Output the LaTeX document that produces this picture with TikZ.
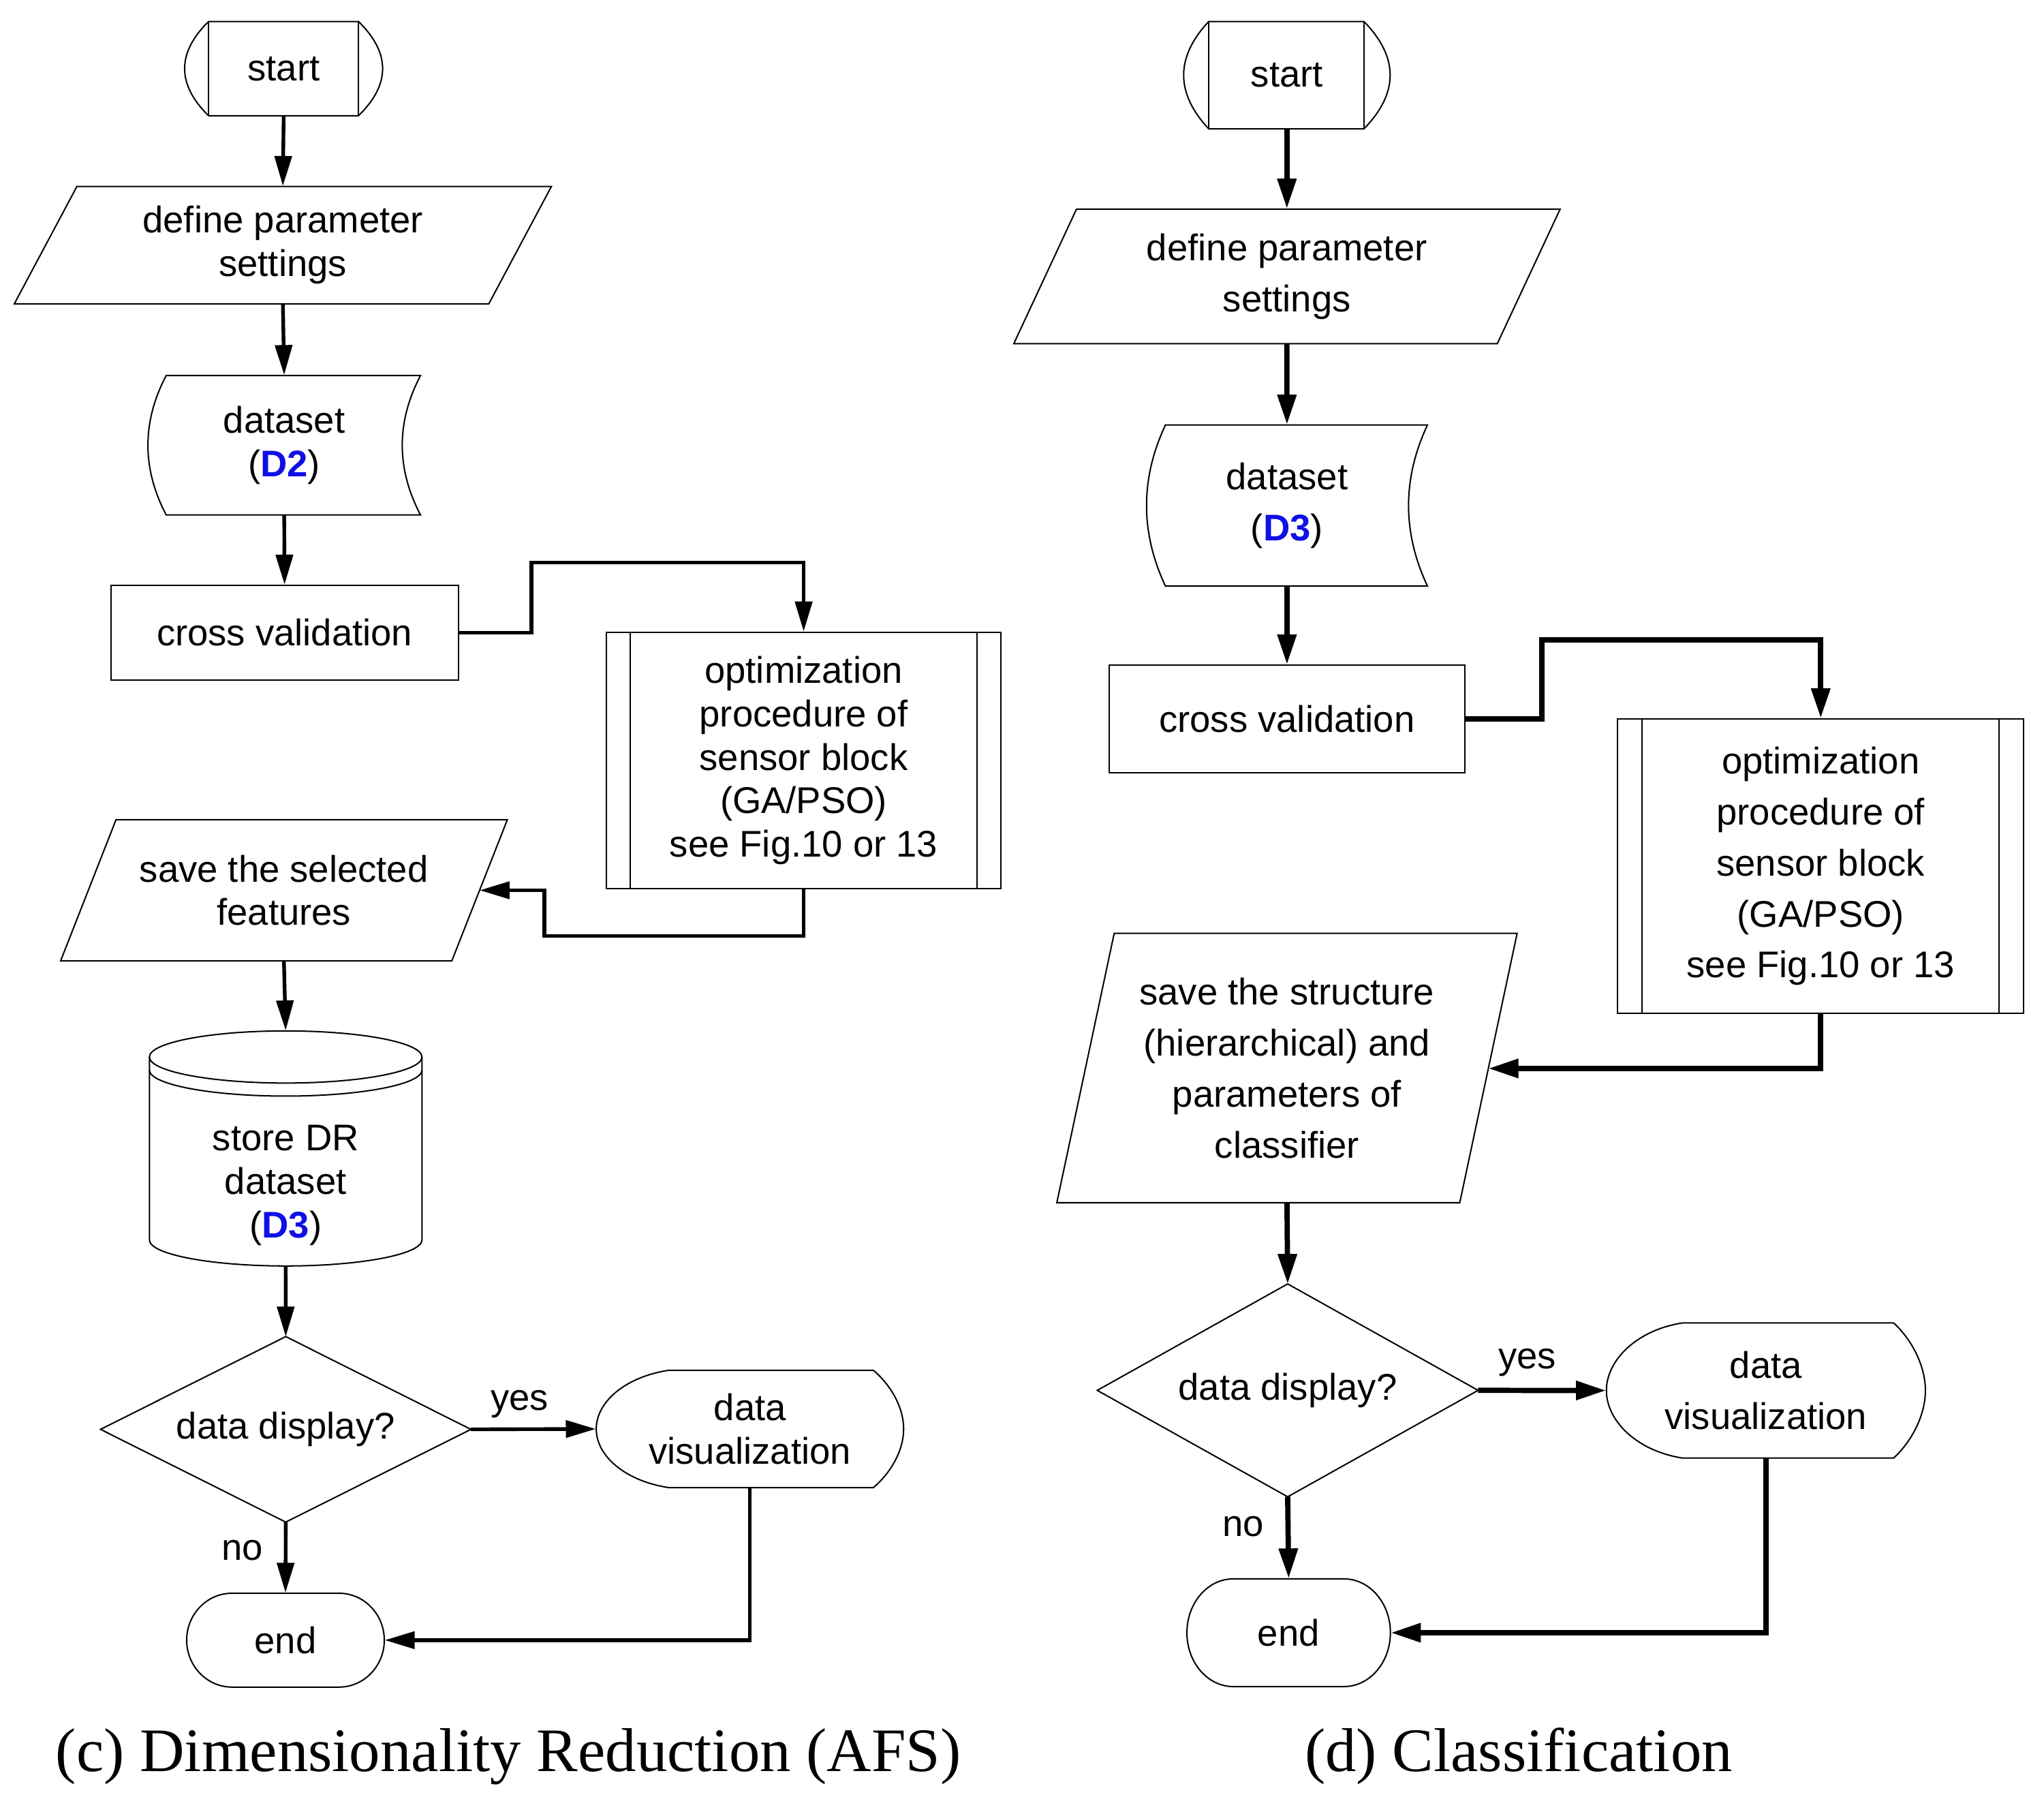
\documentclass[tikz,border=0pt]{standalone}
\usepackage{fontspec}
\setmainfont{Liberation Serif}
\newfontfamily\flowfont{Liberation Sans}
\usetikzlibrary{arrows.meta}
\definecolor{dsblue}{RGB}{15,15,230}
\newcommand{\dsname}[1]{(\textcolor{dsblue}{\textbf{#1}})}
\tikzset{
  outline/.style={line width=0.6pt},
  box/.style={draw, outline, inner sep=0pt, align=center},
  txt/.style={inner sep=0pt, align=center},
  ltext/.style={font={\flowfont\fontsize{16.2}{19}\selectfont}},
  rtext/.style={font={\flowfont\fontsize{16.2}{22.3}\selectfont}},
  flowl/.style={-{Triangle[length=4.6mm,width=2.6mm]}, line width=1.6pt},
  flowr/.style={-{Triangle[length=4.6mm,width=2.8mm]}, line width=2.3pt},
  caption/.style={font={\fontsize{27}{30}\selectfont}, anchor=base}
}
\begin{document}
\begin{tikzpicture}[x=0.02cm, y=-0.02cm]
\useasboundingbox (0,0) rectangle (1568,1391);
% (c) dimensionality reduction
\node[txt, ltext, minimum width=3.04cm, minimum height=1.446cm] (start1) at (217.6,52.65) {start};
\draw[outline] (160,16.5) -- (275,16.5) .. controls (299.7,40.6) and (299.7,64.7) .. (275,88.8) -- (160,88.8) .. controls (135.5,64.7) and (135.5,40.6) .. (160,16.5) -- cycle;
\draw[outline] (160,16.5) -- (160,88.8) (275,16.5) -- (275,88.8);
\node[txt, ltext, minimum height=1.8cm] (par1) at (217,188) {define parameter\\settings};
\draw[outline] (59,143) -- (423,143) -- (375,233) -- (11,233) -- cycle;
\node[txt, ltext, minimum height=2.14cm] (data1) at (218,341.5) {dataset\\\dsname{D2}};
\draw[outline] (127.5,288) -- (322.6,288) .. controls (303.9,323.7) and (303.9,359.3) .. (322.6,395) -- (127.5,395) .. controls (108.8,359.3) and (108.8,323.7) .. (127.5,288) -- cycle;
\node[box, ltext, minimum width=5.332cm, minimum height=1.45cm] (cv1) at (218.3,485.2) {cross validation};
\node[box, ltext, minimum width=6.052cm, minimum height=3.938cm] (opt1) at (616.5,583.3) {optimization\\procedure of\\sensor block\\(GA/PSO)\\see Fig.10 or 13};
\draw[outline] ([xshift=0.376cm]opt1.north west) -- ([xshift=0.376cm]opt1.south west);
\draw[outline] ([xshift=-0.376cm]opt1.north east) -- ([xshift=-0.376cm]opt1.south east);
\node[txt, ltext, minimum height=2.166cm] (save1) at (217.8,682.85) {save the selected\\features};
\draw[outline] (89,628.7) -- (389.2,628.7) -- (346.6,737) -- (46.5,737) -- cycle;
\coordinate (save1e) at (367.9,682.85);
\node[txt, minimum width=4.18cm, minimum height=3.606cm] (cyl1) at (219.15,880.85) {};
\node[txt, ltext] (cyl1t) at (219.15,909) {store DR\\dataset\\\dsname{D3}};
\draw[outline] (219.15,810.7) ellipse [x radius=2.091cm, y radius=0.4cm];
\draw[outline] (114.6,820.7) .. controls (114.6,831.7) and (161.4,840.7) .. (219.15,840.7) .. controls (276.9,840.7) and (323.7,831.7) .. (323.7,820.7);
\draw[outline] (114.6,810.7) -- (114.6,951) .. controls (114.6,962) and (161.4,971) .. (219.15,971) .. controls (276.9,971) and (323.7,962) .. (323.7,951) -- (323.7,810.7);
\node[txt, ltext, minimum width=5.67cm, minimum height=2.832cm] (dec1) at (219.2,1096.3) {data display?};
\draw[outline] (dec1.north) -- (dec1.east) -- (dec1.south) -- (dec1.west) -- cycle;
\node[txt, ltext, minimum width=4.716cm, minimum height=1.8cm] (viz1) at (575.3,1096) {data\\visualization};
\draw[outline] (513,1051) -- (670,1051) .. controls (684,1063) and (693.2,1080) .. (693.2,1096) .. controls (693.2,1112) and (684,1129) .. (670,1141) -- (513,1141) .. controls (480,1136) and (457.4,1117) .. (457.4,1096) .. controls (457.4,1075) and (480,1056) .. (513,1051) -- cycle;
\node[txt, ltext, minimum width=3.032cm, minimum height=1.44cm] (end1) at (219,1258) {end};
\draw[outline] (178,1222) -- (260,1222) .. controls (279.2,1222) and (294.8,1238.1) .. (294.8,1258) .. controls (294.8,1277.9) and (279.2,1294) .. (260,1294) -- (178,1294) .. controls (158.8,1294) and (143.2,1277.9) .. (143.2,1258) .. controls (143.2,1238.1) and (158.8,1222) .. (178,1222) -- cycle;
\node[txt, ltext] (yes1) at (398.7,1077) {yes};
\node[txt, ltext] (no1) at (185.8,1189) {no};
\draw[flowl] (start1.south) -- (par1.north);
\draw[flowl] (par1.south) -- (data1.north);
\draw[flowl] (data1.south) -- (cv1.north);
\draw[flowl] (cv1.east) -| (407.7,431.6) -| (opt1.north);
\draw[flowl] (opt1.south) |- (417.7,718) |- (save1e);
\draw[flowl] (save1.south) -- (cyl1.north);
\draw[flowl] (cyl1.south) -- (dec1.north);
\draw[flowl] (dec1.east) -- (viz1.west);
\draw[flowl] (dec1.south) -- (end1.north);
\draw[flowl] (viz1.south) |- (end1.east);
\node[caption] (capc) at (390,1358.7) {(c) Dimensionality Reduction (AFS)};
% (d) classification
\node[txt, rtext, minimum width=3.168cm, minimum height=1.646cm] (start2) at (987.2,57.65) {start};
\draw[outline] (927.2,16.5) -- (1046.3,16.5) .. controls (1073.1,43.9) and (1073.1,71.4) .. (1046.3,98.8) -- (927.2,98.8) .. controls (901.6,71.4) and (901.6,43.9) .. (927.2,16.5) -- cycle;
\draw[outline] (927.2,16.5) -- (927.2,98.8) (1046.3,16.5) -- (1046.3,98.8);
\node[txt, rtext, minimum height=2.064cm] (par2) at (987.2,212) {define parameter\\settings};
\draw[outline] (825.8,160.4) -- (1196.8,160.4) -- (1148.6,263.6) -- (777.7,263.6) -- cycle;
\node[txt, rtext, minimum height=2.47cm] (data2) at (987.25,387.75) {dataset\\\dsname{D3}};
\draw[outline] (894,326) -- (1095,326) .. controls (1075.7,367.2) and (1075.7,408.3) .. (1095,449.5) -- (894,449.5) .. controls (874.7,408.3) and (874.7,367.2) .. (894,326) -- cycle;
\node[box, rtext, minimum width=5.462cm, minimum height=1.646cm] (cv2) at (987.25,551.35) {cross validation};
\node[box, rtext, minimum width=6.232cm, minimum height=4.516cm] (opt2) at (1396.7,664.3) {optimization\\procedure of\\sensor block\\(GA/PSO)\\see Fig.10 or 13};
\draw[outline] ([xshift=0.386cm]opt2.north west) -- ([xshift=0.386cm]opt2.south west);
\draw[outline] ([xshift=-0.386cm]opt2.north east) -- ([xshift=-0.386cm]opt2.south east);
\node[txt, rtext, minimum height=4.132cm] (save2) at (987.25,819.2) {save the structure\\(hierarchical) and\\parameters of\\classifier};
\draw[outline] (854.7,715.9) -- (1163.8,715.9) -- (1119.8,922.5) -- (810.7,922.5) -- cycle;
\coordinate (save2e) at (1141.8,819.5);
\node[txt, rtext, minimum width=5.83cm, minimum height=3.252cm] (dec2) at (987.8,1066.4) {data display?};
\draw[outline] (dec2.north) -- (dec2.east) -- (dec2.south) -- (dec2.west) -- cycle;
\node[txt, rtext, minimum width=4.894cm, minimum height=2.072cm] (viz2) at (1354.65,1066.5) {data\\visualization};
\draw[outline] (1290.6,1014.7) -- (1452.7,1014.7) .. controls (1467,1028) and (1477,1048) .. (1477,1066.5) .. controls (1477,1085) and (1467,1105) .. (1452.7,1118.3) -- (1290.6,1118.3) .. controls (1256,1113) and (1232.3,1090) .. (1232.3,1066.5) .. controls (1232.3,1043) and (1256,1020) .. (1290.6,1014.7) -- cycle;
\node[txt, rtext, minimum width=3.122cm, minimum height=1.652cm] (end2) at (988.55,1252.3) {end};
\draw[outline] (946,1211) -- (1031,1211) .. controls (1050.6,1211) and (1066.6,1229.5) .. (1066.6,1252.3) .. controls (1066.6,1275.1) and (1050.6,1293.6) .. (1031,1293.6) -- (946,1293.6) .. controls (926.4,1293.6) and (910.5,1275.1) .. (910.5,1252.3) .. controls (910.5,1229.5) and (926.4,1211) .. (946,1211) -- cycle;
\node[txt, rtext] (yes2) at (1171.5,1045.2) {yes};
\node[txt, rtext] (no2) at (953.5,1171) {no};
\draw[flowr] (start2.south) -- (par2.north);
\draw[flowr] (par2.south) -- (data2.north);
\draw[flowr] (data2.south) -- (cv2.north);
\draw[flowr] (cv2.east) -| (1182.6,490.7) -| (opt2.north);
\draw[flowr] (opt2.south) |- (save2e);
\draw[flowr] (save2.south) -- (dec2.north);
\draw[flowr] (dec2.east) -- (viz2.west);
\draw[flowr] (dec2.south) -- (end2.north);
\draw[flowr] (viz2.south) |- (end2.east);
\node[caption] (capd) at (1165,1358.6) {(d) Classification};
\end{tikzpicture}
\end{document}
